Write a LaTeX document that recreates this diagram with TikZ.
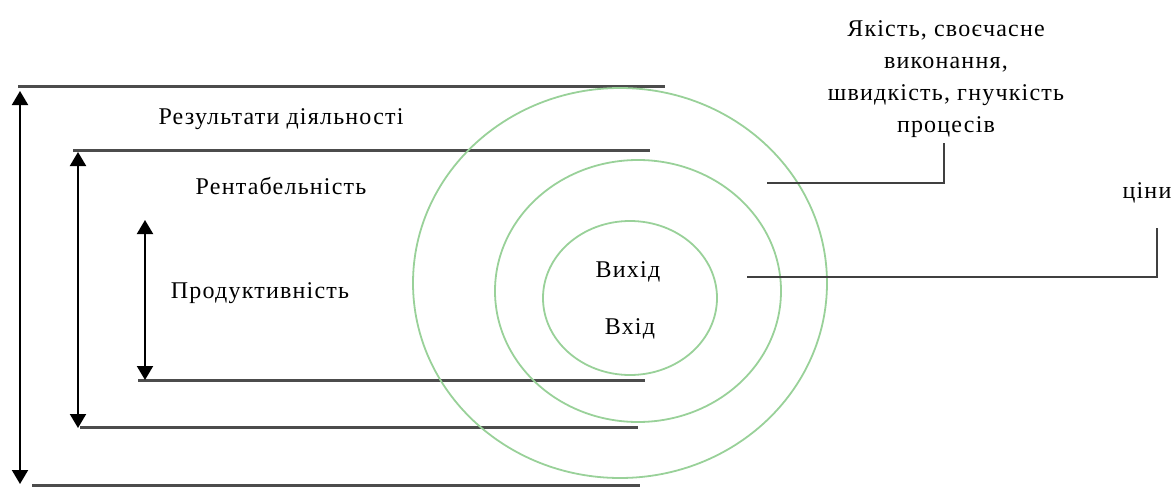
\documentclass[tikz,border=0pt]{standalone}
\usepackage{fontspec}
\setmainfont{Liberation Serif}[LetterSpace=5]
\usetikzlibrary{arrows.meta}

\begin{document}
\begin{tikzpicture}[x=1pt, y=-1pt,
    level/.style={line width=3pt, draw=black!70},
    span/.style={line width=2pt, {Triangle[length=14pt,width=16pt]}-{Triangle[length=14pt,width=16pt]}},
    ring/.style={line width=1.8pt, draw=green!55!black!40!white},
    lead/.style={line width=2pt, draw=black!75},
    label/.style={font=\fontsize{24}{32}\selectfont, text=black, inner sep=0pt}]
    \useasboundingbox (0,0) rectangle (1176,487);

    % Levels of the pyramid
    \coordinate (L1w) at (18,87);  \coordinate (L1e) at (665,87);
    \coordinate (L2w) at (73,150); \coordinate (L2e) at (650,150);
    \coordinate (L3w) at (138,380); \coordinate (L3e) at (645,380);
    \coordinate (L4w) at (80,427); \coordinate (L4e) at (638,427);
    \coordinate (L5w) at (32,485); \coordinate (L5e) at (640,485);
    \draw[level] (L1w) -- (L1e);
    \draw[level] (L2w) -- (L2e);
    \draw[level] (L3w) -- (L3e);
    \draw[level] (L4w) -- (L4e);
    \draw[level] (L5w) -- (L5e);

    % Spans between the levels
    \coordinate (A1) at (20,91);  \coordinate (A2) at (20,484);
    \coordinate (B1) at (78,152); \coordinate (B2) at (78,428);
    \coordinate (C1) at (145,220); \coordinate (C2) at (145,380);
    \draw[span] (A1) -- (A2);
    \draw[span] (B1) -- (B2);
    \draw[span] (C1) -- (C2);

    % Rings
    \draw[ring] (620,283) ellipse (207 and 195);
    \draw[ring] (638,291) ellipse (143 and 131);
    \draw[ring] (630,298) ellipse (87 and 77);

    % Texts
    \node[label] (res)  at (281,119) {Результати діяльності};
    \node[label] (rent) at (281,186) {Рентабельність};
    \node[label] (prod) at (260,293) {Продуктивність};
    \node[label] (out)  at (628,272) {Вихід};
    \node[label] (in)   at (630,329) {Вхід};
    \node[label, align=center] (qual) at (946,79)
        {Якість, своєчасне\\виконання,\\швидкість, гнучкість\\процесів};
    \node[label] (price) at (1147,193) {ціни};

    % Leaders to the texts
    \coordinate (Q1) at (767,183); \coordinate (Q2) at (944,143);
    \coordinate (P1) at (747,277); \coordinate (P2) at (1157,228);
    \draw[lead] (Q1) -| (Q2);
    \draw[lead] (P1) -| (P2);
\end{tikzpicture}
\end{document}
